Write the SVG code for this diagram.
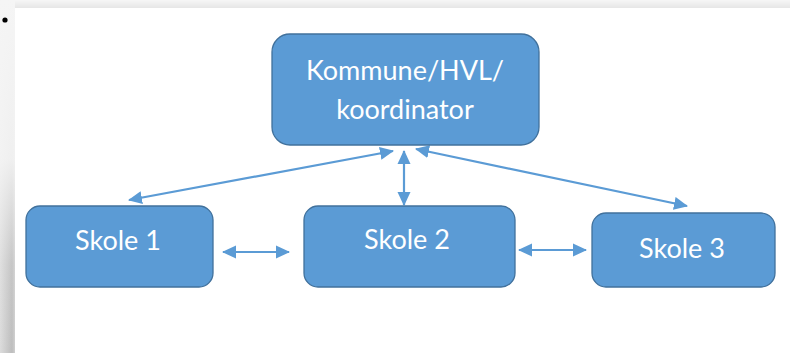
<svg xmlns="http://www.w3.org/2000/svg" width="790" height="353" viewBox="0 0 790 353">
<defs>
<linearGradient id="gl" x1="0" y1="0" x2="1" y2="0">
<stop offset="0" stop-color="#dcdcdc"/>
<stop offset="0.8" stop-color="#bdbdbd"/>
<stop offset="1" stop-color="#cfcfcf"/>
</linearGradient>
<linearGradient id="fade" x1="0" y1="0" x2="0" y2="1">
<stop offset="0" stop-color="#f5f5f5" stop-opacity="1"/>
<stop offset="0.45" stop-color="#f5f5f5" stop-opacity="0.9"/>
<stop offset="0.75" stop-color="#f5f5f5" stop-opacity="0.15"/>
<stop offset="1" stop-color="#f5f5f5" stop-opacity="0"/>
</linearGradient>
<linearGradient id="gt" x1="0" y1="0" x2="0" y2="1">
<stop offset="0" stop-color="#f6f6f6"/>
<stop offset="1" stop-color="#e6e6e6"/>
</linearGradient>
<marker id="ah" viewBox="0 0 14 14" refX="13" refY="7" markerWidth="14" markerHeight="14" markerUnits="userSpaceOnUse" orient="auto-start-reverse">
<path d="M0,0.5 L14,7 L0,13.5 Z" fill="#5B9BD5"/>
</marker>
</defs>
<style>
.box{fill:#5B9BD5;stroke:#41719C;stroke-width:1.3}
.lbl{font-family:Lato,"Open Sans","Liberation Sans",sans-serif;font-size:27px;fill:#ffffff;text-anchor:middle}
.con{stroke:#5B9BD5;stroke-width:2.2;fill:none;marker-start:url(#ah);marker-end:url(#ah)}
</style>
<rect width="790" height="353" fill="#ffffff"/>
<rect x="0" y="0" width="790" height="8" fill="url(#gt)"/>
<rect x="0" y="0" width="15" height="353" fill="url(#gl)"/>
<rect x="0" y="0" width="15" height="353" fill="url(#fade)"/>
<circle cx="5" cy="20" r="2.6" fill="#000000"/>
<g id="connectors">
<line class="con" x1="393" y1="151" x2="129" y2="200"/>
<line class="con" x1="404" y1="151" x2="404" y2="205"/>
<line class="con" x1="416" y1="149" x2="687" y2="206"/>
<line class="con" x1="223" y1="252" x2="289" y2="252"/>
<line class="con" x1="519" y1="250" x2="586" y2="250"/>
</g>
<g id="kommune">
<rect class="box" x="272" y="34" width="267" height="111" rx="18"/>
<text class="lbl" x="405" y="80">Kommune/HVL/</text>
<text class="lbl" x="405" y="119">koordinator</text>
</g>
<g id="skole1">
<rect class="box" x="26" y="206" width="187" height="81" rx="14"/>
<text class="lbl" x="118" y="250">Skole 1</text>
</g>
<g id="skole2">
<rect class="box" x="304" y="206" width="211" height="81" rx="14"/>
<text class="lbl" x="407" y="249">Skole 2</text>
</g>
<g id="skole3">
<rect class="box" x="592" y="213" width="183" height="74" rx="14"/>
<text class="lbl" x="682" y="258">Skole 3</text>
</g>
</svg>
